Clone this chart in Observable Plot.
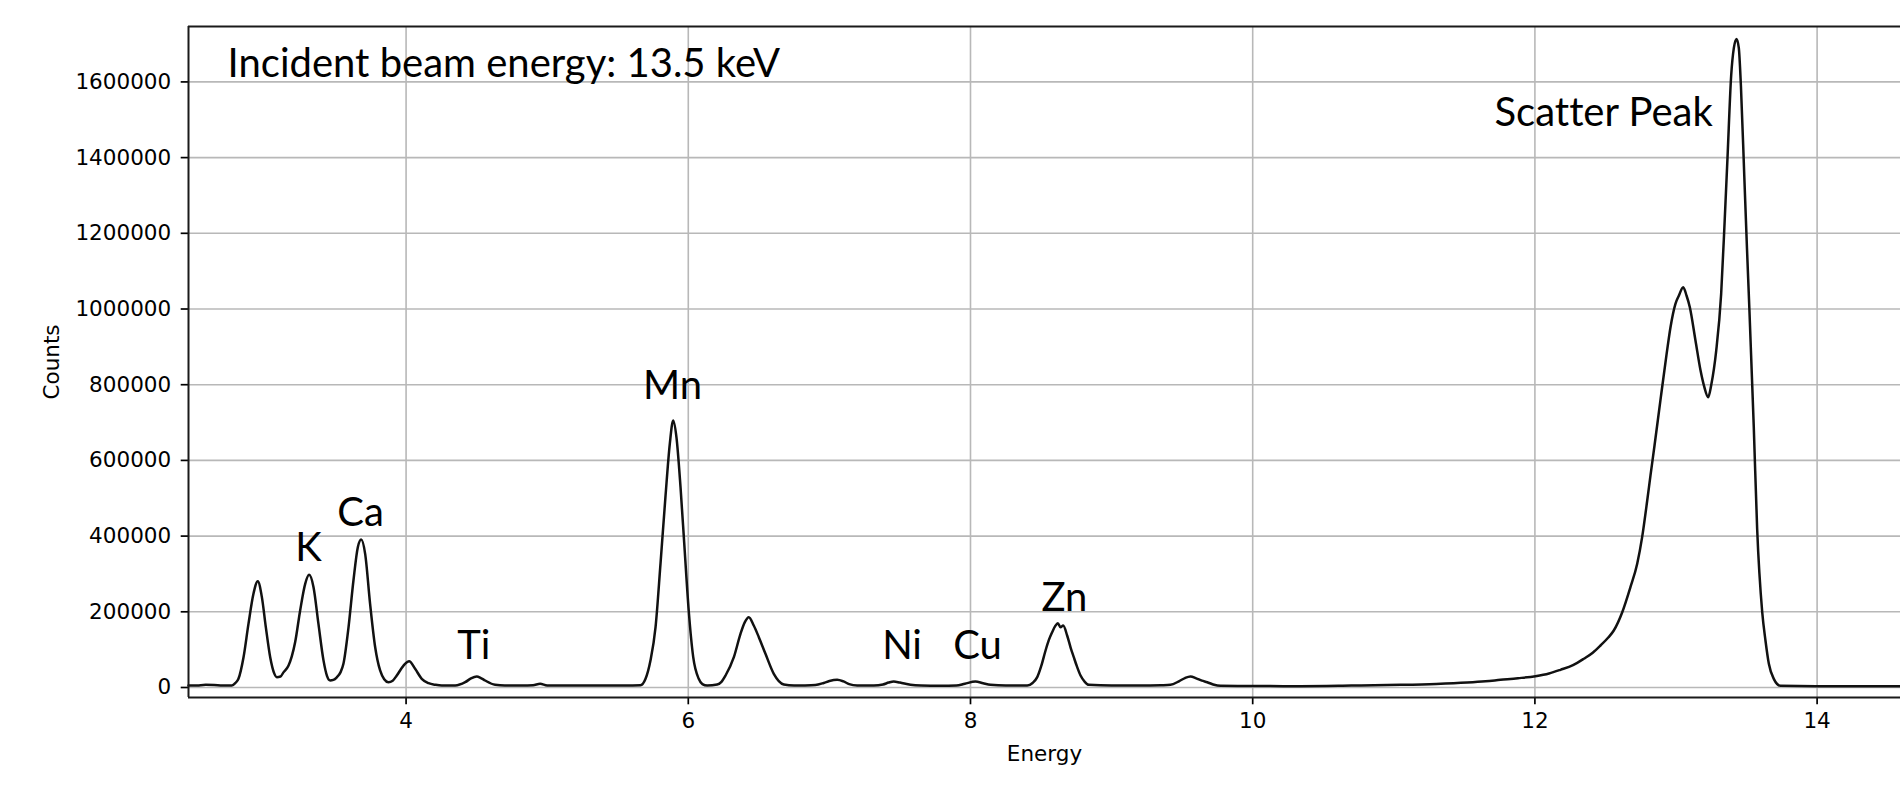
<!DOCTYPE html>
<html>
<head>
<meta charset="utf-8">
<script src="https://cdn.jsdelivr.net/npm/d3@7"></script>
<script src="https://cdn.jsdelivr.net/npm/@observablehq/plot@0.6"></script>
<style>
  html, body { margin: 0; padding: 0; background: #fff; }
  #chart svg { display: block; }
  #chart text { font-variant-ligatures: none; }
  #chart [aria-label$="axis tick"] { stroke-width: 1.7px; }
</style>
</head>
<body>
<div id="chart"></div>
<script>
// Spectrum (energy in keV, counts)
const energy = [
  2.458, 2.52, 2.58, 2.64, 2.70, 2.765, 2.79, 2.812, 2.848, 2.883, 2.918, 2.949, 2.978, 3.006, 3.037, 3.067, 3.084,
  3.11, 3.131, 3.167, 3.19, 3.214, 3.249, 3.285, 3.313, 3.344, 3.379, 3.415, 3.44, 3.462, 3.485, 3.509, 3.535, 3.556,
  3.592, 3.627, 3.658, 3.682, 3.710, 3.745, 3.781, 3.816, 3.845, 3.875, 3.905, 3.934, 3.982, 4.022, 4.064, 4.111,
  4.159, 4.21, 4.253, 4.348, 4.419, 4.46, 4.501, 4.53, 4.560, 4.631, 4.70, 4.82, 4.90, 4.95, 5.00, 5.2, 5.4, 5.55,
  5.661, 5.697, 5.732, 5.768, 5.803, 5.838, 5.869, 5.893, 5.916, 5.945, 5.973, 6.003, 6.035, 6.074, 6.10, 6.134,
  6.205, 6.235, 6.264, 6.323, 6.370, 6.40, 6.429, 6.464, 6.500, 6.547, 6.606, 6.677, 6.75, 6.819, 6.90, 6.96, 7.00,
  7.055, 7.10, 7.14, 7.197, 7.315, 7.38, 7.42, 7.456, 7.50, 7.575, 7.65, 7.787, 7.90, 7.96, 8.035, 8.09, 8.142, 8.25,
  8.402, 8.44, 8.473, 8.50, 8.532, 8.555, 8.579, 8.600, 8.619, 8.638, 8.657, 8.685, 8.710, 8.732, 8.755, 8.780, 8.81,
  8.838, 9.0, 9.205, 9.35, 9.417, 9.48, 9.52, 9.559, 9.60, 9.64, 9.678, 9.72, 9.772, 10.0, 10.339, 10.7, 11.047, 11.3,
  11.520, 11.65, 11.756, 11.88, 12.004, 12.10, 12.181, 12.27, 12.346, 12.41, 12.465, 12.52, 12.559, 12.619, 12.677,
  12.725, 12.760, 12.796, 12.819, 12.848, 12.890, 12.933, 12.961, 12.996, 13.02, 13.051, 13.075, 13.098, 13.138,
  13.174, 13.20, 13.228, 13.25, 13.285, 13.32, 13.345, 13.365, 13.391, 13.41, 13.429, 13.445, 13.46, 13.484, 13.503,
  13.52, 13.538, 13.551, 13.575, 13.611, 13.634, 13.658, 13.693, 13.741, 14.024, 14.3, 14.591
];
const counts = [
  5000, 5500, 7000, 6500, 5000, 5300, 12000, 23000, 80000, 168000, 247000, 280800, 238700, 159400, 80000, 36000, 27200,
  29000, 40000, 58000, 82000, 120000, 203000, 274000, 297700, 265000, 168000, 71000, 30000, 18500, 20000, 27000, 40000, 62600,
  159000, 282700, 370700, 391000, 353000, 221000, 106500, 45000, 22000, 14000, 18000, 31700, 58000, 69500, 49300, 23000,
  11400, 7000, 5300, 5300, 14000, 24000, 29000, 25000, 18500, 7000, 5000, 5000, 6000, 10000, 5500, 5000, 5500, 5000,
  6000, 23000, 71300, 159400, 326700, 502800, 643800, 705400, 661400, 529300, 370800, 203400, 80100, 23000, 9000, 5300,
  7900, 15000, 31700, 80100, 141800, 172000, 185800, 163800, 133000, 89000, 36100, 7900, 5000, 5300, 6500, 12000, 17000,
  20300, 16000, 9000, 5300, 5300, 8000, 13000, 15900, 13000, 7000, 5000, 4400, 5000, 10000, 15900, 11000, 7000, 5000,
  5300, 12000, 27300, 55000, 97800, 125000, 146200, 162000, 170000, 159400, 163800, 137400, 105000, 80100, 55000, 31700, 15000,
  7000, 5000, 5000, 6000, 7000, 17000, 25000, 29000, 24000, 18000, 14000, 8000, 4400, 4000, 3500, 5000, 7000, 9500,
  13200, 16500, 20300, 24500, 29900, 37000, 46700, 59000, 75800, 92000, 111000, 132000, 150600, 199000, 265000,
  326700, 397200, 494000, 560000, 640000, 760000, 880000, 952000, 1013700, 1035000, 1057600, 1035000, 1004800, 916800,
  837500, 795000, 767000, 800000, 890000, 1040000, 1233800, 1400000, 1617000, 1690000, 1713700, 1690000, 1590000, 1350000, 1160000,
  1000000, 820000, 690000, 420000, 199000, 124200, 62500, 22900, 4400, 3500, 3500, 3500
];

const xTicks = [4, 6, 8, 10, 12, 14];
const yTicks = [0, 200000, 400000, 600000, 800000, 1000000, 1200000, 1400000, 1600000];

// Peak annotations: label, energy and counts at the label's baseline
const peakNames = ["K", "Ca", "Ti", "Mn", "Ni", "Cu", "Zn", "Scatter Peak"];
const peakLabelEnergy = [3.308, 3.677, 4.480, 5.888, 7.515, 8.050, 8.666, 12.487];
const peakLabelCounts = [335500, 428000, 75800, 762700, 74000, 74000, 203400, 1482200];

const noteText = ["Incident beam energy: 13.5 keV"];
const noteEnergy = [2.735];
const noteCounts = [1612400];

const xDomain = [2.458, 14.591];
const yDomain = [-26420, 1746400];

const spectrum = energy.map((e, i) => ({energy: e, counts: counts[i]}));
const peaks = peakNames.map((n, i) => ({name: n, energy: peakLabelEnergy[i], counts: peakLabelCounts[i]}));
const notes = noteText.map((t, i) => ({text: t, energy: noteEnergy[i], counts: noteCounts[i]}));

const annFont = "Lato, 'Open Sans', sans-serif";
const axisFont = "'DejaVu Sans', sans-serif";
const spine = {stroke: "#1a1a1a", strokeWidth: 2};
const grid = {stroke: "#b8b8b8", strokeWidth: 1.6};

const chart = Plot.plot({
  width: 1900,
  height: 792,
  marginLeft: 188,
  marginRight: 0,
  marginTop: 26,
  marginBottom: 95,
  style: {fontFamily: axisFont, fontSize: "21.5px", color: "#000", background: "#fff", overflow: "visible"},
  x: {domain: xDomain, ticks: xTicks, tickSize: 7.3, tickPadding: 8, tickFormat: d3.format("d"), label: null},
  y: {domain: yDomain, ticks: yTicks, tickSize: 7.3, tickPadding: 10, tickFormat: d3.format("d"), label: null},
  marks: [
    Plot.ruleX(xTicks, grid),
    Plot.ruleY(yTicks, grid),
    Plot.line(spectrum, {x: "energy", y: "counts", stroke: "#111", strokeWidth: 2.5, curve: "monotone-x"}),
    Plot.ruleX([xDomain[0]], spine),
    Plot.ruleY([yDomain[0]], spine),
    Plot.ruleY([yDomain[1]], spine),
    Plot.text(peaks, {x: "energy", y: "counts", text: "name", textAnchor: "middle", lineAnchor: "bottom",
      fontFamily: annFont, fontSize: 40, fill: "#000"}),
    Plot.text(notes, {x: "energy", y: "counts", text: "text", textAnchor: "start", lineAnchor: "bottom",
      fontFamily: annFont, fontSize: 40, fill: "#000"}),
    Plot.text(["Counts"], {frameAnchor: "left", dx: -136, rotate: -90, textAnchor: "middle", lineAnchor: "middle",
      fontFamily: axisFont, fontSize: 21.5, fill: "#000"}),
    Plot.text(["Energy"], {frameAnchor: "bottom", dy: 63, textAnchor: "middle", lineAnchor: "bottom",
      fontFamily: axisFont, fontSize: 21.5, fill: "#000"})
  ]
});

document.getElementById("chart").appendChild(chart);
</script>
</body>
</html>
